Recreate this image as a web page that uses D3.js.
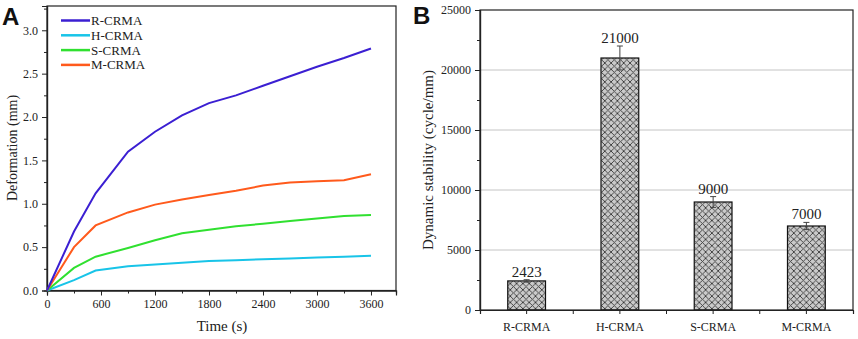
<!DOCTYPE html>
<html><head><meta charset="utf-8">
<script src="https://cdn.jsdelivr.net/npm/d3@7"></script>
<style>body{margin:0;background:#fff}svg{display:block}</style>
</head><body>
<svg id="c" width="858" height="339"></svg>
<script>
// ---- Panel A data ----
const times = [0, 300, 540, 900, 1200, 1500, 1800, 2100, 2400, 2700, 3000, 3300, 3600];
const rCRMA = [0, 0.68, 1.12, 1.60, 1.83, 2.02, 2.16, 2.25, 2.36, 2.47, 2.58, 2.68, 2.79];
const hCRMA = [0, 0.12, 0.23, 0.28, 0.30, 0.32, 0.34, 0.35, 0.36, 0.37, 0.38, 0.39, 0.40];
const sCRMA = [0, 0.26, 0.39, 0.49, 0.58, 0.66, 0.70, 0.74, 0.77, 0.80, 0.83, 0.86, 0.87];
const mCRMA = [0, 0.50, 0.75, 0.90, 0.99, 1.05, 1.10, 1.15, 1.21, 1.245, 1.26, 1.27, 1.34];
const seriesNames = ["R-CRMA", "H-CRMA", "S-CRMA", "M-CRMA"];
const seriesColors = ["#3b1fd2", "#18c4e8", "#30e030", "#ff5a1c"];
const xTicksA = [0, 600, 1200, 1800, 2400, 3000, 3600];
const yTicksA = [0.0, 0.5, 1.0, 1.5, 2.0, 2.5, 3.0];

// ---- Panel B data ----
const categories = ["R-CRMA", "H-CRMA", "S-CRMA", "M-CRMA"];
const stability = [2423, 21000, 9000, 7000];
const stabilityErr = [100, 1000, 450, 300];
const yTicksB = [0, 5000, 10000, 15000, 20000, 25000];

const svg = d3.select("#c");
const serif = "'Liberation Serif','Times New Roman',serif";

// ================= Panel A =================
const xA = d3.scaleLinear().domain([0, 3878]).range([47, 396]);
const yA = d3.scaleLinear().domain([0, 3.28]).range([290.5, 6]);

const gA = svg.append("g");
// frame
gA.append("rect").attr("x", 47).attr("y", 6).attr("width", 349).attr("height", 284.5)
  .attr("fill", "none").attr("stroke", "#222").attr("stroke-width", 1.2);

// x axis
const xAxA = gA.append("g").attr("transform", "translate(0,290.5)")
  .call(d3.axisBottom(xA).tickValues(xTicksA).tickFormat(d3.format("d")).tickSize(5).tickPadding(4));
gA.append("g").attr("transform", "translate(0,290.5)")
  .call(d3.axisBottom(xA).tickValues(d3.range(300, 3878, 600)).tickFormat("").tickSize(3));
const yAxA = gA.append("g").attr("transform", "translate(47,0)")
  .call(d3.axisLeft(yA).tickValues(yTicksA).tickFormat(d3.format(".1f")).tickSize(5).tickPadding(4));
gA.append("g").attr("transform", "translate(47,0)")
  .call(d3.axisLeft(yA).tickValues(d3.range(0.25, 3.28, 0.5)).tickFormat("").tickSize(3));

gA.selectAll(".domain").attr("stroke", "#222").attr("stroke-width", 1.2);
gA.selectAll(".tick line").attr("stroke", "#222");
gA.selectAll(".tick text").attr("font-family", serif).attr("font-size", 12).attr("fill", "#222");

const seriesData = [rCRMA, hCRMA, sCRMA, mCRMA];
const line = d3.line().x((d, i) => xA(times[i])).y(d => yA(d));
// draw order: H, S, M, R (R on top of others at origin)
[1, 2, 3, 0].forEach(k => {
  gA.append("path").datum(seriesData[k]).attr("d", line)
    .attr("fill", "none").attr("stroke", seriesColors[k]).attr("stroke-width", 2);
});

// legend
seriesNames.forEach((n, i) => {
  const y = 20.5 + i * 14.8;
  gA.append("line").attr("x1", 61).attr("x2", 90).attr("y1", y).attr("y2", y)
    .attr("stroke", seriesColors[i]).attr("stroke-width", 2.5);
  gA.append("text").attr("x", 91).attr("y", y + 4.5).text(n)
    .attr("font-family", serif).attr("font-size", 13).attr("fill", "#222");
});

gA.append("text").attr("x", 222).attr("y", 331).attr("text-anchor", "middle")
  .attr("font-family", serif).attr("font-size", 15).attr("fill", "#222").text("Time (s)");
gA.append("text").attr("transform", "translate(17,148) rotate(-90)").attr("text-anchor", "middle")
  .attr("font-family", serif).attr("font-size", 14).attr("fill", "#222").text("Deformation (mm)");
gA.append("text").attr("x", 2).attr("y", 25).attr("font-family", "'Liberation Sans',Arial,sans-serif")
  .attr("font-weight", "bold").attr("font-size", 24).attr("fill", "#111").text("A");

// ================= Panel B =================
const defs = svg.append("defs");
const pat = defs.append("pattern").attr("id", "hatch").attr("patternUnits", "userSpaceOnUse")
  .attr("width", 6.3).attr("height", 6.3);
pat.append("rect").attr("width", 6.3).attr("height", 6.3).attr("fill", "#cacaca");
pat.append("path").attr("d", "M0,0L6.3,6.3M6.3,0L0,6.3M-1,1L1,-1M5.3,7.3L7.3,5.3M-1,5.3L1,7.3M5.3,-1L7.3,1")
  .attr("stroke", "#3a3a3a").attr("stroke-width", 0.9);

const xB = d3.scaleBand().domain(categories).range([480, 853]).paddingInner(0.595).paddingOuter(0.2975);
const yB = d3.scaleLinear().domain([0, 25000]).range([310, 10]);
const gB = svg.append("g");

// grid
gB.selectAll(".grid").data(yTicksB.filter(v => v > 0 && v < 25000)).enter().append("line")
  .attr("x1", 480).attr("x2", 853).attr("y1", d => yB(d)).attr("y2", d => yB(d))
  .attr("stroke", "#c4c4c4").attr("stroke-width", 1);

// bars
gB.selectAll(".bar").data(stability).enter().append("rect")
  .attr("x", (d, i) => xB(categories[i])).attr("width", xB.bandwidth())
  .attr("y", d => yB(d)).attr("height", d => yB(0) - yB(d))
  .attr("fill", "url(#hatch)").attr("stroke", "#111").attr("stroke-width", 1.2);

// error bars
stability.forEach((v, i) => {
  const cx = xB(categories[i]) + xB.bandwidth() / 2;
  gB.append("line").attr("x1", cx).attr("x2", cx).attr("y1", yB(v - stabilityErr[i])).attr("y2", yB(v + stabilityErr[i]))
    .attr("stroke", "#444").attr("stroke-width", 1);
  [v - stabilityErr[i], v + stabilityErr[i]].forEach(e => {
    gB.append("line").attr("x1", cx - 3).attr("x2", cx + 3).attr("y1", yB(e)).attr("y2", yB(e))
      .attr("stroke", "#444").attr("stroke-width", 1);
  });
  gB.append("text").attr("x", cx).attr("y", yB(v + stabilityErr[i]) - 3).attr("text-anchor", "middle")
    .attr("font-family", serif).attr("font-size", 15).attr("fill", "#222").text(v);
});

// frame
gB.append("rect").attr("x", 480).attr("y", 10).attr("width", 373).attr("height", 300)
  .attr("fill", "none").attr("stroke", "#222").attr("stroke-width", 1.2);

gB.append("g").attr("transform", "translate(0,310)")
  .call(d3.axisBottom(xB).tickSize(4).tickPadding(8));
const bounds = categories.slice(1).map(c => xB(c) - xB.step() * xB.paddingInner() / 2);
gB.append("g").attr("transform", "translate(0,310)").selectAll("line").data(bounds).enter().append("line")
  .attr("x1", d => d).attr("x2", d => d).attr("y1", 0).attr("y2", 4).attr("stroke", "#222");
gB.append("g").attr("transform", "translate(480,0)")
  .call(d3.axisLeft(yB).tickValues(yTicksB).tickFormat(d3.format("d")).tickSize(5).tickPadding(4));
gB.append("g").attr("transform", "translate(480,0)")
  .call(d3.axisLeft(yB).tickValues(d3.range(2500, 25000, 5000)).tickFormat("").tickSize(3));

gB.selectAll(".domain").attr("stroke", "#222").attr("stroke-width", 1.2);
gB.selectAll(".tick line").attr("stroke", "#222");
gB.selectAll(".tick text").attr("font-family", serif).attr("font-size", 12).attr("fill", "#222");

gB.append("text").attr("transform", "translate(433,160) rotate(-90)").attr("text-anchor", "middle")
  .attr("font-family", serif).attr("font-size", 15).attr("fill", "#222").text("Dynamic stability (cycle/mm)");
gB.append("text").attr("x", 413).attr("y", 24).attr("font-family", "'Liberation Sans',Arial,sans-serif")
  .attr("font-weight", "bold").attr("font-size", 24).attr("fill", "#111").text("B");
</script>
</body></html>
